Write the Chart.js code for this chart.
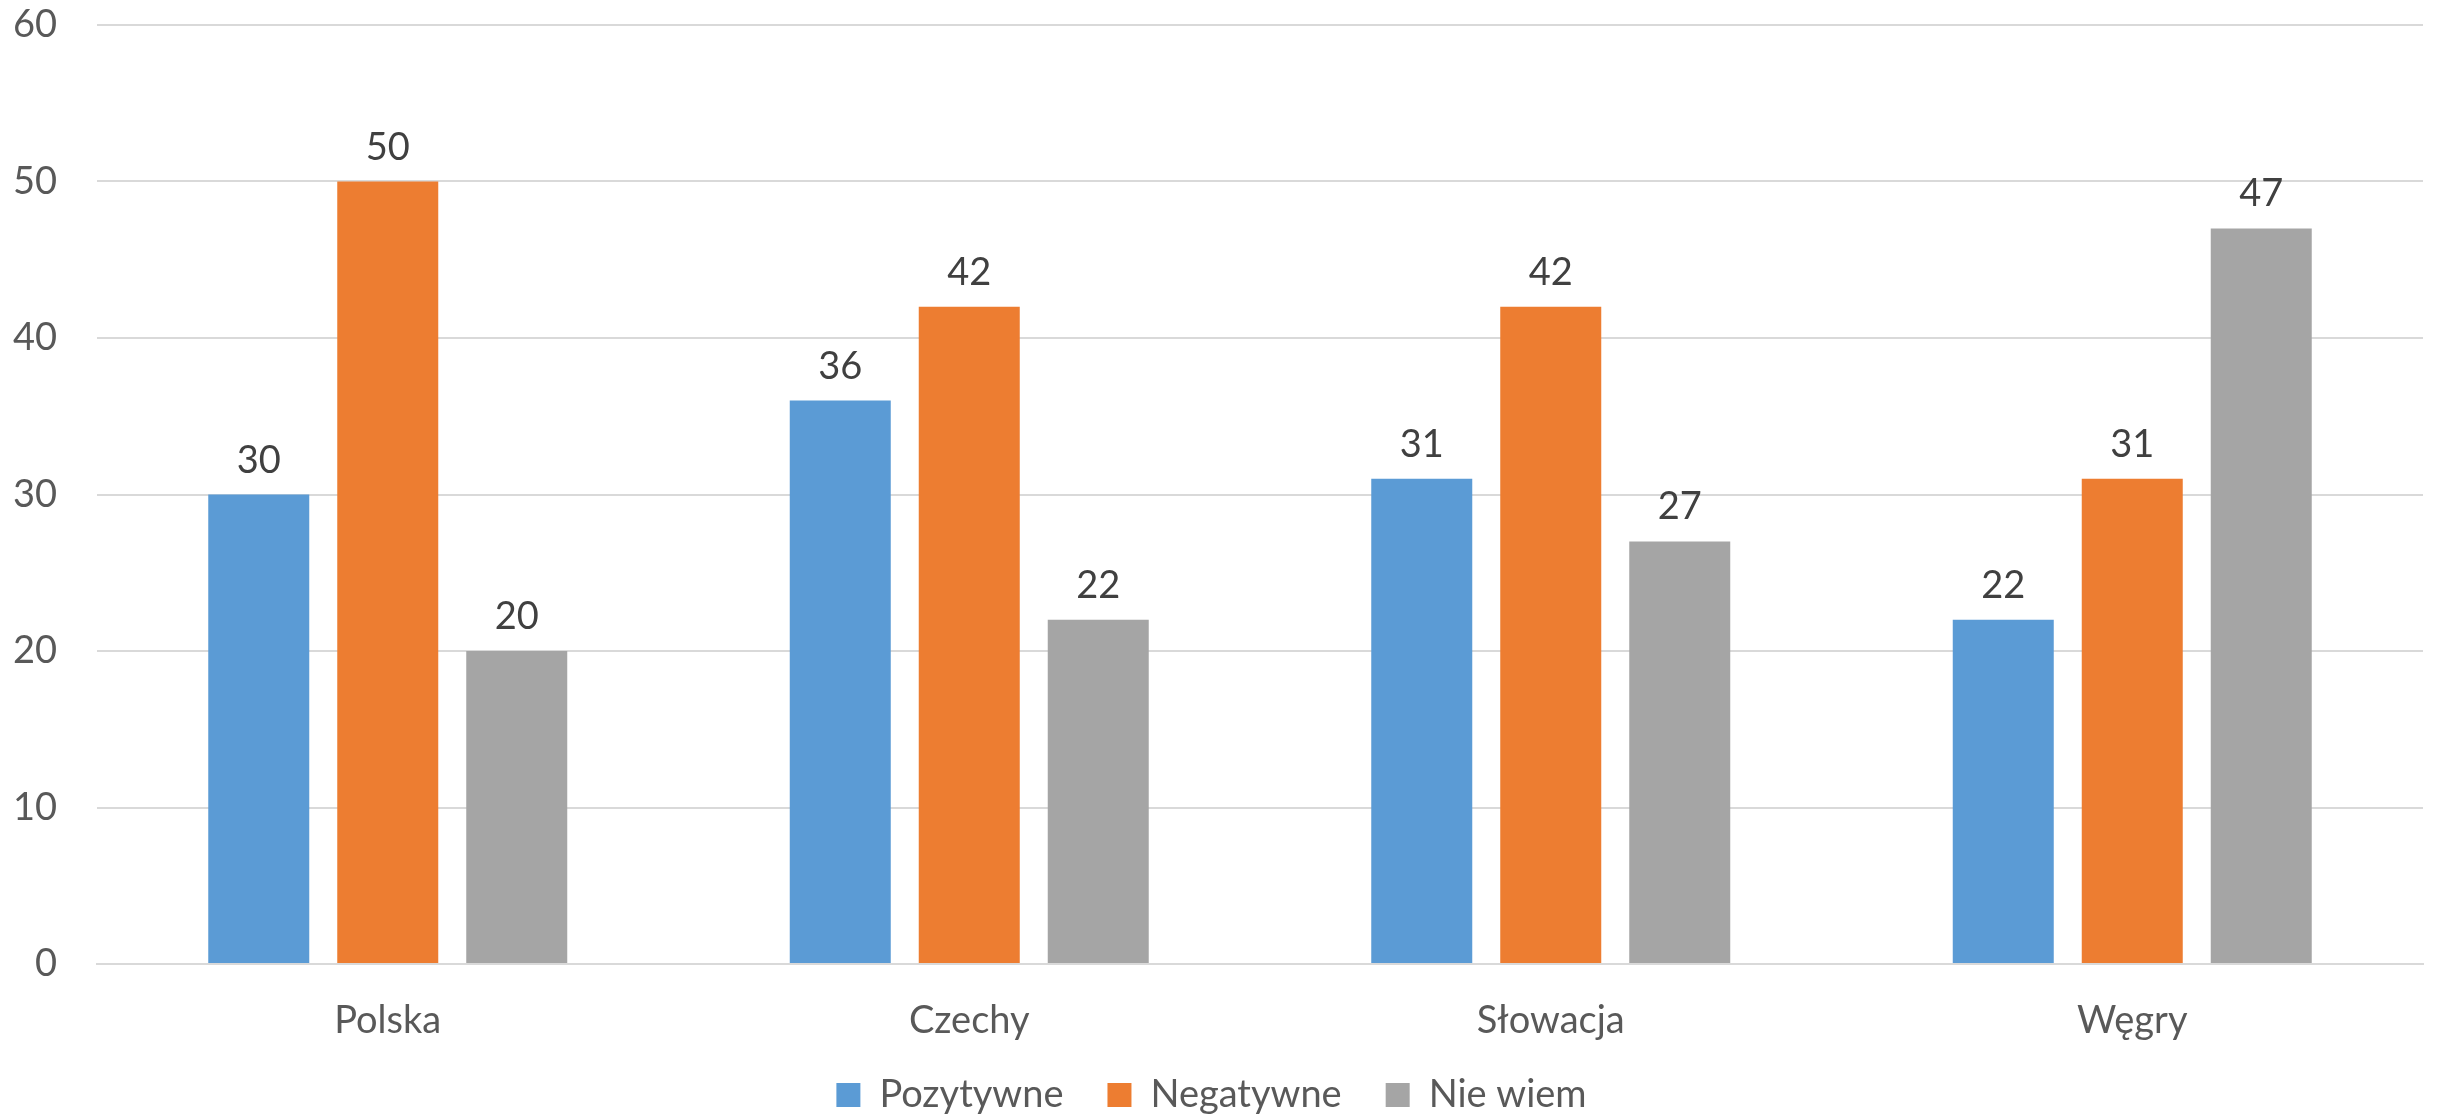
<!DOCTYPE html>
<html><head><meta charset="utf-8">
<script src="https://cdn.jsdelivr.net/npm/chart.js@4/dist/chart.umd.min.js"></script>
<style>html,body{margin:0;padding:0;background:#fff;}#wrap{width:2438px;height:1115px;position:relative;}</style>
</head><body><div id="wrap"><canvas id="c" width="2438" height="1115"></canvas></div>
<script>
const categories = ["Polska", "Czechy", "Słowacja", "Węgry"];
const pozytywne = [30, 36, 31, 22];
const negatywne = [50, 42, 42, 31];
const nieWiem = [20, 22, 27, 47];
const seriesNames = ["Pozytywne", "Negatywne", "Nie wiem"];
const yTicks = [0, 10, 20, 30, 40, 50, 60];

const FONT = "Lato, 'Open Sans', sans-serif";

const valueLabels = {
  id: 'valueLabels',
  afterDatasetsDraw(chart) {
    const ctx = chart.ctx;
    ctx.save();
    ctx.font = "38px " + FONT;
    ctx.fillStyle = '#404040';
    ctx.textAlign = 'center';
    ctx.textBaseline = 'alphabetic';
    chart.data.datasets.forEach((ds, i) => {
      const meta = chart.getDatasetMeta(i);
      meta.data.forEach((bar, j) => {
        ctx.fillText(String(ds.data[j]), bar.x, bar.y - 22);
      });
    });
    ctx.restore();
  }
};

new Chart(document.getElementById('c'), {
  type: 'bar',
  data: {
    labels: categories,
    datasets: [
      { label: seriesNames[0], data: pozytywne, backgroundColor: '#5B9BD5' },
      { label: seriesNames[1], data: negatywne, backgroundColor: '#ED7D31' },
      { label: seriesNames[2], data: nieWiem, backgroundColor: '#A5A5A5' }
    ]
  },
  options: {
    responsive: false,
    animation: false,
    devicePixelRatio: 1,
    datasets: { bar: { categoryPercentage: 0.6655, barPercentage: 0.783 } },
    layout: { padding: { top: 25, right: 15, left: 0, bottom: -9 } },
    scales: {
      x: {
        grid: { display: false, drawTicks: false },
        border: { display: true, color: '#D9D9D9', width: 2 },
        ticks: { font: { family: FONT, size: 38 }, color: '#595959', padding: 34 },
        afterFit(s) {
          s.height = 68; s.paddingLeft = 0; s.paddingRight = 0;
          s._computeLabelArea = () => undefined;
        }
      },
      y: {
        min: 0, max: 60,
        afterBuildTicks(s) { s.ticks = yTicks.map(v => ({ value: v })); },
        grid: { color: '#D9D9D9', lineWidth: 2, drawTicks: false },
        border: { display: false },
        ticks: { font: { family: FONT, size: 38 }, color: '#595959', padding: 40 },
        afterFit(s) { s.width = 97; s.paddingTop = 0; s.paddingBottom = 0; }
      }
    },
    plugins: {
      legend: {
        position: 'bottom',
        labels: { font: { family: FONT, size: 38 }, color: '#595959', boxWidth: 24, boxHeight: 24, padding: 44 }
      },
      tooltip: { enabled: false }
    }
  },
  plugins: [valueLabels]
});
</script></body></html>
